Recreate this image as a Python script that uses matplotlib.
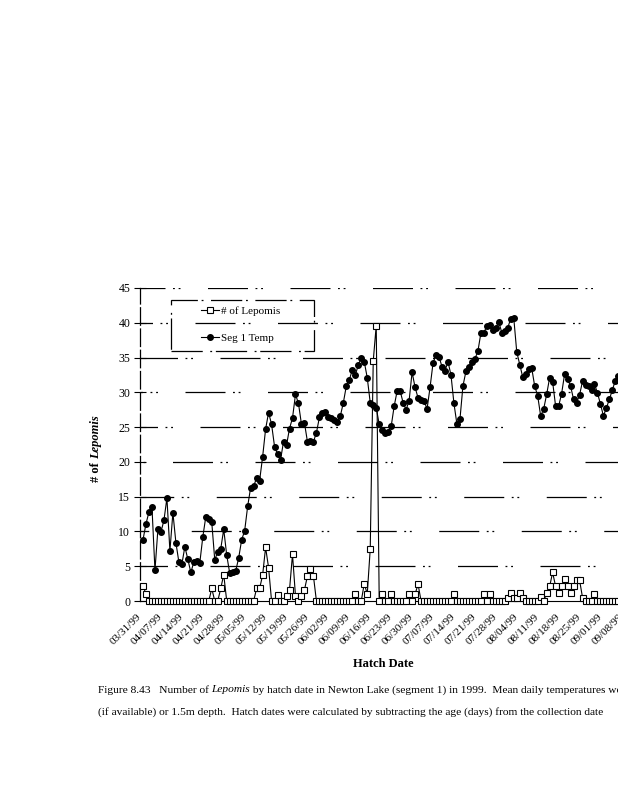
import matplotlib
matplotlib.use("Agg")
import matplotlib.pyplot as plt
from matplotlib.patches import Rectangle

plt.rcParams['font.family'] = ['Liberation Serif', 'DejaVu Serif']

# ---------------- data ----------------
tick_days = [0, 7, 14, 21, 28, 35, 42, 49, 56, 63, 70, 77, 84, 91, 98, 105,
             112, 119, 126, 133, 140, 147, 154, 161]
tick_labels = ["03/31/99", "04/07/99", "04/14/99", "04/21/99", "04/28/99",
               "05/05/99", "05/12/99", "05/19/99", "05/26/99", "06/02/99",
               "06/09/99", "06/16/99", "06/23/99", "06/30/99", "07/07/99",
               "07/14/99", "07/21/99", "07/28/99", "08/04/99", "08/11/99",
               "08/18/99", "08/25/99", "09/01/99", "09/08/99"]

seg1_temp = [8.8, 11.1, 12.8, 13.5, 4.4, 10.4, 9.9, 11.6, 14.8, 7.2,
             12.7, 8.4, 5.6, 5.3, 7.8, 6.0, 4.1, 5.6, 5.8, 5.5,
             9.2, 12.1, 11.8, 11.3, 5.9, 7.1, 7.5, 10.3, 6.6, 4.0,
             4.1, 4.3, 6.2, 8.8, 10.1, 13.6, 16.3, 16.5, 17.7, 17.3,
             20.7, 24.7, 27.1, 25.4, 22.2, 21.1, 20.3, 22.9, 22.4, 24.8,
             26.3, 29.7, 28.4, 25.4, 25.6, 22.9, 23.0, 22.9, 24.2, 26.4,
             27.1, 27.2, 26.5, 26.3, 26.0, 25.7, 26.6, 28.5, 30.9, 31.8,
             33.2, 32.5, 33.9, 35.0, 34.4, 32.1, 28.5, 28.2, 27.8, 25.4,
             24.6, 24.2, 24.3, 25.1, 28.0, 30.2, 30.2, 28.5, 27.5, 28.8,
             32.9, 30.7, 29.2, 28.9, 28.8, 27.6, 30.7, 34.2, 35.4, 35.1,
             33.7, 33.1, 34.4, 32.5, 28.4, 25.4, 26.1, 30.9, 33.0, 33.7,
             34.4, 34.8, 35.9, 38.5, 38.6, 39.5, 39.7, 39.0, 39.3, 40.1,
             38.6, 38.8, 39.3, 40.6, 40.7, 35.8, 34.0, 32.2, 32.6, 33.3,
             33.5, 30.9, 29.5, 26.6, 27.6, 29.7, 32.1, 31.5, 28.0, 28.0,
             29.8, 32.6, 31.9, 30.9, 29.0, 28.5, 29.6, 31.6, 31.1, 30.9,
             30.4, 31.2, 29.9, 28.3, 26.6, 27.8, 29.0, 30.4, 31.7, 32.3]

n_lepomis = [2.2, 1.0, 0, 0, 0, 0, 0, 0, 0, 0,
             0, 0, 0, 0, 0, 0, 0, 0, 0, 0,
             0, 0, 0, 1.8, 0, 0, 1.8, 3.8, 0, 0,
             0, 0, 0, 0, 0, 0, 0, 0, 1.8, 1.8,
             3.7, 7.7, 4.8, 0, 0, 0.8, 0, 0, 0.7, 1.6,
             6.7, 0.7, 0, 0.7, 1.6, 3.6, 4.6, 3.6, 0, 0,
             0, 0, 0, 0, 0, 0, 0, 0, 0, 0,
             0, 1.0, 0, 0, 2.5, 1.0, 7.5, 34.5, 39.6, 0,
             1.0, 0, 0, 1.0, 0, 0, 0, 0, 0, 1.0,
             0, 1.0, 2.4, 0, 0, 0, 0, 0, 0, 0,
             0, 0, 0, 0, 1.0, 0, 0, 0, 0, 0,
             0, 0, 0, 0, 1.0, 0, 1.0, 0, 0, 0,
             0, 0, 0.5, 1.2, 0.5, 0.5, 1.2, 0.5, 0, 0,
             0, 0, 0, 0.6, 0, 1.1, 2.1, 4.1, 2.1, 1.1,
             2.1, 3.1, 2.1, 1.1, 2.1, 3.0, 3.0, 0.5, 0, 0,
             0, 1.0, 0, 0, 0, 0, 0, 0, 0, 0]

days = list(range(len(seg1_temp)))
y_ticks = [0, 5, 10, 15, 20, 25, 30, 35, 40, 45]

# ---------------- figure ----------------
W, H = 618, 800
fig = plt.figure(figsize=(W / 100, H / 100), dpi=100)

def fx(px):
    return px / W

def fy(py):
    return 1 - py / H

# axes: day 0 at x=143px, 2.99 px per day; y 0 at 601px, 45 at 288px
x_left, x_right = -1, 165
left_px = 143 + x_left * 2.99
right_px = 143 + x_right * 2.99
ax = fig.add_axes([fx(left_px), fy(601), (right_px - left_px) / W, (601 - 288) / H])
ax.set_xlim(x_left, x_right)
ax.set_ylim(0, 45)

# broken-looking horizontal gridlines (scanned look)
grid_offsets = [10, 25, 5, 40, 18, 30, 2, 22, 12]
for yv, off in zip(y_ticks[1:], grid_offsets):
    ax.axhline(yv, color='black', lw=0.9,
               linestyle=(off, (32, 6, 1.5, 3, 1.5, 22)), zorder=1)

ax.plot(days, n_lepomis, color='black', lw=0.8, marker='s', ms=3.8,
        mfc='white', mec='black', mew=0.8, clip_on=False, zorder=3,
        label='# of Lepomis')
ax.plot(days, seg1_temp, color='black', lw=0.8, marker='o', ms=4.0,
        mfc='black', mec='black', clip_on=False, zorder=4,
        label='Seg 1 Temp')

for s in ['top', 'right']:
    ax.spines[s].set_visible(False)
ax.spines['left'].set_linestyle((0, (14, 3)))
ax.spines['left'].set_linewidth(0.9)
ax.spines['bottom'].set_linewidth(0.8)

ax.set_yticks(y_ticks)
ax.set_yticklabels([str(v) for v in y_ticks], fontsize=8.5)
ax.tick_params(axis='y', direction='inout', length=8, width=0.8, pad=3)
ax.set_xticks(tick_days)
ax.set_xticklabels(tick_labels, rotation=45, ha='right', va='top', fontsize=8)
ax.tick_params(axis='x', length=0, pad=8)

# legend
ax.legend(loc='upper left', bbox_to_anchor=(fx(201), fy(306)),
          bbox_transform=fig.transFigure, frameon=False, fontsize=8,
          handlelength=1.6, handletextpad=0.2, labelspacing=1.55,
          borderpad=0, borderaxespad=0, numpoints=1)
box = Rectangle((fx(171), fy(351)), fx(314) - fx(171), fy(300) - fy(351),
                transform=fig.transFigure, fill=False, edgecolor='black',
                lw=0.9, linestyle=(0, (25, 6, 1.5, 3)))
fig.patches.append(box)

# axis titles
fig.text(fx(96), fy(459), "# of ", rotation=90, ha='center', va='top',
         fontsize=9, fontweight='bold')
fig.text(fx(96), fy(459), "Lepomis", rotation=90, ha='center', va='bottom',
         fontsize=9, fontweight='bold', fontstyle='italic')
fig.text(fx(383), fy(664), "Hatch Date", ha='center', va='center',
         fontsize=9, fontweight='bold')

# caption
fig.canvas.draw()
r = fig.canvas.get_renderer()
t1 = fig.text(fx(98), fy(690), "Figure 8.43   Number of", ha='left',
              va='center', fontsize=8.2)
bb = t1.get_window_extent(r)
t2 = fig.text(bb.x1 / W + 2.5 / W, fy(690), "Lepomis", ha='left', va='center',
              fontsize=8.2, fontstyle='italic')
bb2 = t2.get_window_extent(r)
fig.text(bb2.x1 / W, fy(690),
         " by hatch date in Newton Lake (segment 1) in 1999.  Mean daily temperatures were",
         ha='left', va='center', fontsize=8.2)
fig.text(fx(98), fy(712),
         "(if available) or 1.5m depth.  Hatch dates were calculated by subtracting the age (days) from the collection date",
         ha='left', va='center', fontsize=8.2)

fig.savefig("out.png", dpi=100)
